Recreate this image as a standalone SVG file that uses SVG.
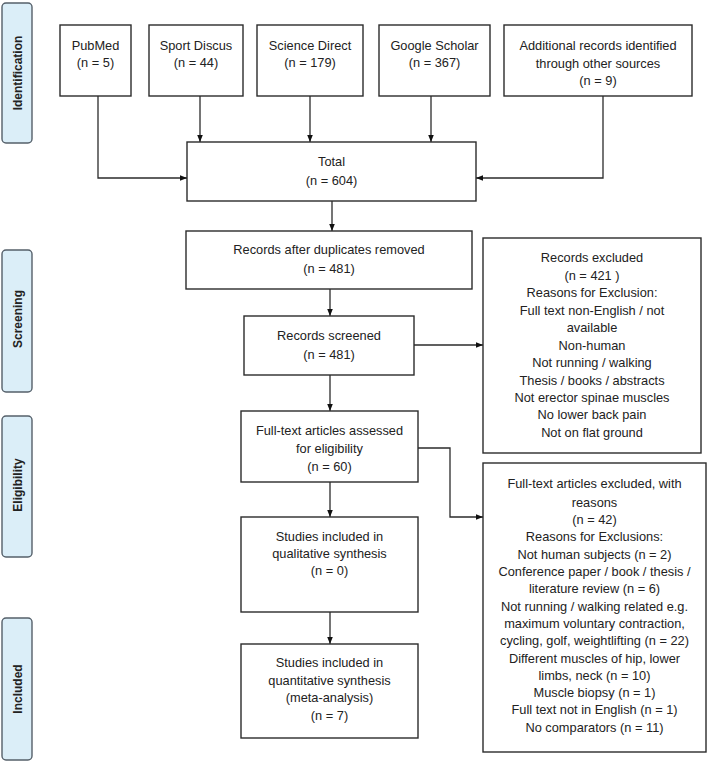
<svg xmlns="http://www.w3.org/2000/svg" width="708" height="761" viewBox="0 0 708 761">
<defs>
<style>
.box{fill:#fff;stroke:#2b2b2b;stroke-width:1.4}
.side{fill:#dbeef8;stroke:#55606a;stroke-width:1.4}
.t{font-family:"Liberation Sans",Arial,sans-serif;font-size:12.8px;fill:#222;text-anchor:middle}
.s{font-family:"Liberation Sans",Arial,sans-serif;font-size:12px;font-weight:bold;fill:#222;text-anchor:middle}
.c{fill:none;stroke:#2b2b2b;stroke-width:1.3}
</style>
<marker id="ah" viewBox="0 0 10 10" refX="10" refY="5" markerWidth="7" markerHeight="7" markerUnits="userSpaceOnUse" orient="auto">
<path d="M0,1 L10,5 L0,9 z" fill="#111"/>
</marker>
</defs>
<rect width="708" height="761" fill="#fff"/>
<g id="phase-identification"><rect class="side" x="2" y="3" width="30" height="140" rx="4"/><text class="s" transform="translate(22,73) rotate(-90)">Identification</text></g>
<g id="phase-screening"><rect class="side" x="2" y="250" width="30" height="142" rx="4"/><text class="s" transform="translate(22,319) rotate(-90)">Screening</text></g>
<g id="phase-eligibility"><rect class="side" x="2" y="416" width="30" height="141" rx="4"/><text class="s" transform="translate(22,485) rotate(-90)">Eligibility</text></g>
<g id="phase-included"><rect class="side" x="2" y="618" width="30" height="142" rx="4"/><text class="s" transform="translate(22,689) rotate(-90)">Included</text></g>

<g id="connectors">
<path class="c" d="M98,96 V178 H187" marker-end="url(#ah)"/>
<path class="c" d="M200,96 V142" marker-end="url(#ah)"/>
<path class="c" d="M310,96 V142" marker-end="url(#ah)"/>
<path class="c" d="M431,96 V142" marker-end="url(#ah)"/>
<path class="c" d="M603,96 V178 H476" marker-end="url(#ah)"/>
<path class="c" d="M332,201 V231" marker-end="url(#ah)"/>
<path class="c" d="M330,289 V316" marker-end="url(#ah)"/>
<path class="c" d="M414,345 H483" marker-end="url(#ah)"/>
<path class="c" d="M330,375 V411" marker-end="url(#ah)"/>
<path class="c" d="M418,448 H450 V517 H483" marker-end="url(#ah)"/>
<path class="c" d="M330,482 V517" marker-end="url(#ah)"/>
<path class="c" d="M330,612 V644" marker-end="url(#ah)"/>
</g>

<g id="pubmed"><rect class="box" x="60" y="25" width="71" height="71"/><text class="t" x="95.5" y="49.5">PubMed</text><text class="t" x="95.5" y="67">(n = 5)</text></g>
<g id="sportdiscus"><rect class="box" x="149" y="25" width="94" height="71"/><text class="t" x="196" y="49.5">Sport Discus</text><text class="t" x="196" y="67">(n = 44)</text></g>
<g id="sciencedirect"><rect class="box" x="257" y="25" width="106" height="71"/><text class="t" x="310" y="49.5">Science Direct</text><text class="t" x="310" y="67">(n = 179)</text></g>
<g id="googlescholar"><rect class="box" x="379" y="25" width="111" height="71"/><text class="t" x="434.5" y="49.5">Google Scholar</text><text class="t" x="434.5" y="67">(n = 367)</text></g>
<g id="additional"><rect class="box" x="504" y="25" width="188" height="71"/><text class="t" x="598" y="49.5">Additional records identified</text><text class="t" x="598" y="67.5">through other sources</text><text class="t" x="598" y="85">(n =  9)</text></g>
<g id="total"><rect class="box" x="187" y="142" width="289" height="59"/><text class="t" x="331.5" y="165.5">Total</text><text class="t" x="331.5" y="184.5">(n =  604)</text></g>
<g id="duplicates"><rect class="box" x="186" y="231" width="286" height="58"/><text class="t" x="329" y="253.5">Records after duplicates removed</text><text class="t" x="329" y="272.5">(n =  481)</text></g>
<g id="screened"><rect class="box" x="244" y="316" width="170" height="59"/><text class="t" x="329" y="339.5">Records screened</text><text class="t" x="329" y="358.5">(n =  481)</text></g>
<g id="excluded"><rect class="box" x="483" y="238" width="218" height="215"/>
<text class="t" x="592" y="261.5">Records excluded</text>
<text class="t" x="592" y="279.5">(n =  421 )</text>
<text class="t" x="592" y="297">Reasons for Exclusion:</text>
<text class="t" x="592" y="315">Full text non-English / not</text>
<text class="t" x="592" y="332">available</text>
<text class="t" x="592" y="350">Non-human</text>
<text class="t" x="592" y="367">Not running / walking</text>
<text class="t" x="592" y="384.5">Thesis / books / abstracts</text>
<text class="t" x="592" y="402">Not erector spinae muscles</text>
<text class="t" x="592" y="419">No lower back pain</text>
<text class="t" x="592" y="436.5">Not on flat ground</text>
</g>
<g id="assessed"><rect class="box" x="241" y="411" width="177" height="71"/><text class="t" x="329.5" y="434.5">Full-text articles assessed</text><text class="t" x="329.5" y="452.5">for eligibility</text><text class="t" x="329.5" y="470.5">(n =  60)</text></g>
<g id="ftexcluded"><rect class="box" x="483" y="463" width="223" height="289"/>
<text class="t" x="594.5" y="487.5">Full-text articles excluded, with</text>
<text class="t" x="594.5" y="507">reasons</text>
<text class="t" x="594.5" y="523.5">(n =  42)</text>
<text class="t" x="594.5" y="541">Reasons for Exclusions:</text>
<text class="t" x="594.5" y="558.5">Not human subjects (n = 2)</text>
<text class="t" x="594.5" y="575.5">Conference paper / book / thesis /</text>
<text class="t" x="594.5" y="593">literature review (n = 6)</text>
<text class="t" x="594.5" y="610.5">Not running / walking related e.g.</text>
<text class="t" x="594.5" y="627.5">maximum voluntary contraction,</text>
<text class="t" x="594.5" y="644.5">cycling, golf, weightlifting (n = 22)</text>
<text class="t" x="594.5" y="662.5">Different muscles of hip, lower</text>
<text class="t" x="594.5" y="679.5">limbs, neck (n = 10)</text>
<text class="t" x="594.5" y="696.5">Muscle biopsy (n = 1)</text>
<text class="t" x="594.5" y="714">Full text not in English (n = 1)</text>
<text class="t" x="594.5" y="731.5">No comparators (n = 11)</text>
</g>
<g id="qualitative"><rect class="box" x="241" y="517" width="177" height="95"/><text class="t" x="329.5" y="540.5">Studies included in</text><text class="t" x="329.5" y="557.5">qualitative synthesis</text><text class="t" x="329.5" y="575">(n =  0)</text></g>
<g id="quantitative"><rect class="box" x="241" y="644" width="177" height="94"/><text class="t" x="329.5" y="667">Studies included in</text><text class="t" x="329.5" y="685">quantitative synthesis</text><text class="t" x="329.5" y="702">(meta-analysis)</text><text class="t" x="329.5" y="720">(n =  7)</text></g>
</svg>
